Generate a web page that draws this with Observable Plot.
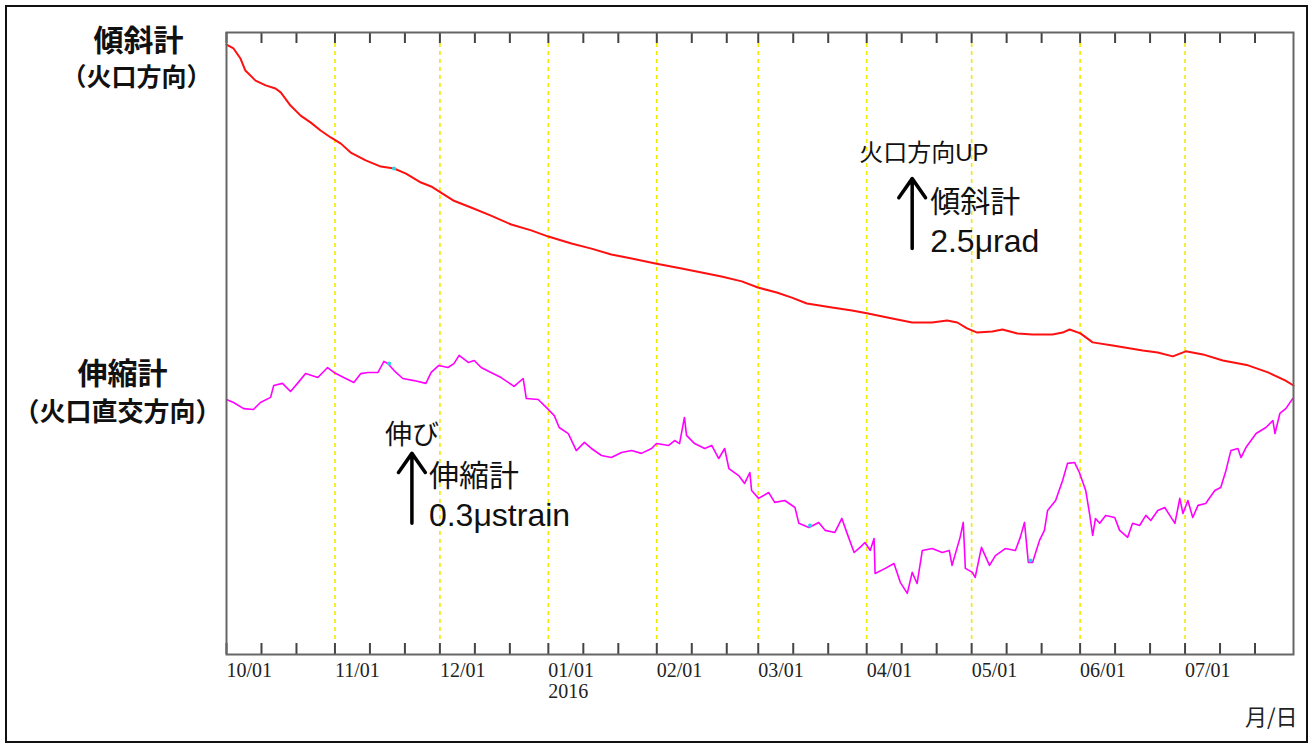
<!DOCTYPE html>
<html>
<head>
<meta charset="utf-8">
<script src="https://cdn.jsdelivr.net/npm/d3@7"></script>
<script src="https://cdn.jsdelivr.net/npm/@observablehq/plot@0.6"></script>
<style>
  html, body { margin: 0; padding: 0; background: #fff; }
  #chart { width: 1313px; height: 747px; }
</style>
</head>
<body>
<div id="chart"></div>
<script>
// ---------- data ----------
const startDate = "2015-10-01";
const endDate = "2016-08-01";

// tilt (火口方向), days since startDate, μrad relative to start
const tiltDays = [0,2,4,5.4,8.3,11.2,14,15.5,18.3,21.2,
  24.1,26.9,29.8,32.7,35.5,39.8,44.1,47.9,51.3,55.6,
  58.5,61.3,64.8,69.9,75.6,81.4,87.1,92,98.6,104.3,
  110,115.8,122.6,130.1,135.8,141.5,147.3,151.9,157.3,161.6,
  165.9,173.1,178.8,183.4,190.3,196,201.7,206,208.9,211.7,
  214.6,218.9,221.8,226.1,230.4,236.1,239,241,244.1,247.6,
  253.3,261.9,266.2,270.5,274.2,279.1,284.8,292,297.7,302.6,305];
const tiltValues = [0,-0.14,-0.50,-0.93,-1.29,-1.46,-1.57,-1.71,-2.18,-2.54,
  -2.79,-3.07,-3.32,-3.54,-3.86,-4.14,-4.36,-4.43,-4.61,-4.93,
  -5.07,-5.29,-5.57,-5.82,-6.11,-6.43,-6.64,-6.86,-7.11,-7.29,
  -7.50,-7.64,-7.82,-8.00,-8.14,-8.29,-8.46,-8.68,-8.86,-9.04,
  -9.25,-9.39,-9.50,-9.61,-9.79,-9.93,-9.93,-9.86,-9.93,-10.14,
  -10.29,-10.25,-10.18,-10.32,-10.36,-10.36,-10.29,-10.18,-10.32,-10.64,
  -10.75,-10.93,-11.00,-11.14,-10.96,-11.07,-11.29,-11.46,-11.71,-12.00,-12.18];

// strain (火口直交方向), days since startDate, μstrain relative to start
const strainDays = [0,2.0,4.9,7.7,9.7,12.6,13.5,16.0,18.3,20.3,
  22.6,26.1,28.9,30.7,33.5,36.4,38.4,40.4,43.3,45.0,
  46.1,47.9,50.4,53.6,57.0,58.5,60.7,63.3,65.0,66.5,
  69.1,70.8,72.8,75.6,78.5,82.2,84.8,85.7,89.1,91.4,
  93.7,95.1,97.7,100.0,102.3,104.3,107.2,110.0,112.9,115.8,
  118.6,121.5,122.9,126.4,128.1,129.5,130.9,131.5,133.8,136.7,
  138.7,140.7,142.4,143.6,146.4,148.1,149.6,150.1,152.1,155.0,
  156.7,159.6,162.5,163.6,166.5,169.3,171.1,173.9,175.9,177.4,
  179.4,181.1,182.5,184.0,185.1,185.4,188.3,190.8,192.6,194.6,
  196.0,197.4,198.9,201.7,204.6,206.6,207.4,209.7,210.6,211.2,
  213.2,214.0,215.8,218.1,219.8,222.6,225.5,226.9,228.1,229.2,
  230.4,232.4,233.8,234.7,237.0,239.0,240.4,242.4,243.8,245.6,
  246.7,247.6,248.4,249.6,251.3,253.9,255.3,257.6,259.0,261.0,
  262.8,264.2,266.2,268.2,271.1,272.5,273.4,274.8,276.2,277.7,
  279.9,282.5,284.2,285.7,287.1,289.1,290.0,291.4,294.3,297.1,
  299.1,299.7,301.1,302.8,304.8];
const strainValues = [0,-0.013,-0.039,-0.043,-0.013,0.009,0.060,0.069,0.034,0.069,
  0.111,0.094,0.137,0.116,0.094,0.073,0.111,0.116,0.116,0.163,
  0.154,0.124,0.090,0.081,0.069,0.116,0.146,0.137,0.154,0.189,
  0.159,0.167,0.137,0.116,0.094,0.056,0.090,0.004,0,-0.034,
  -0.069,-0.120,-0.146,-0.219,-0.184,-0.210,-0.240,-0.249,-0.227,-0.219,
  -0.231,-0.210,-0.189,-0.197,-0.176,-0.189,-0.077,-0.154,-0.189,-0.210,
  -0.197,-0.253,-0.210,-0.296,-0.326,-0.360,-0.313,-0.390,-0.424,-0.399,
  -0.441,-0.433,-0.463,-0.531,-0.549,-0.527,-0.561,-0.570,-0.510,-0.574,
  -0.656,-0.634,-0.613,-0.647,-0.596,-0.746,-0.724,-0.703,-0.784,-0.831,
  -0.741,-0.789,-0.647,-0.639,-0.656,-0.647,-0.711,-0.591,-0.527,-0.724,
  -0.741,-0.763,-0.634,-0.711,-0.669,-0.639,-0.647,-0.591,-0.527,-0.699,
  -0.699,-0.604,-0.561,-0.476,-0.433,-0.347,-0.274,-0.270,-0.313,-0.390,
  -0.489,-0.583,-0.510,-0.531,-0.497,-0.506,-0.561,-0.591,-0.531,-0.540,
  -0.497,-0.519,-0.476,-0.463,-0.531,-0.424,-0.489,-0.433,-0.506,-0.454,
  -0.446,-0.390,-0.377,-0.304,-0.219,-0.210,-0.249,-0.206,-0.146,-0.120,
  -0.090,-0.146,-0.060,-0.039,0.004];

// flagged samples (cyan)
const tiltFlagDays = [47.9];
const tiltFlagValues = [-4.43];
const strainFlagDays = [46.5, 166.8, 229.8];
const strainFlagValues = [0.154, -0.54, -0.69];

// axis
const monthStarts = ["2015-10-01","2015-11-01","2015-12-01","2016-01-01","2016-02-01",
  "2016-03-01","2016-04-01","2016-05-01","2016-06-01","2016-07-01"];
const monthLabels = ["10/01","11/01","12/01","01/01","02/01","03/01","04/01","05/01","06/01","07/01"];
const yearStarts = ["2016-01-01"];
const yearLabels = ["2016"];
const tickDaysOfMonth = [1, 11, 21];

// scale bars
const tiltScaleBar = 2.5;    // μrad
const strainScaleBar = 0.3;  // μstrain
const tiltArrowDate = "2016-04-14", tiltArrowBase = -7.29;
const strainArrowDate = "2015-11-23", strainArrowBase = -0.531;

// ---------- build ----------
const parse = d3.utcParse("%Y-%m-%d");
const t0 = parse(startDate);
const toDate = d => new Date(+t0 + d * 864e5);
const strainFactor = tiltScaleBar / strainScaleBar; // equal arrow lengths
const strainOffset = -12.68;                        // strain trace offset (tilt units)
const sy = v => v * strainFactor + strainOffset;

const tilt = tiltDays.map((d, i) => ({date: toDate(d), value: tiltValues[i]}));
const strain = strainDays.map((d, i) => ({date: toDate(d), value: sy(strainValues[i])}));
const flags = [
  ...tiltFlagDays.map((d, i) => ({date: toDate(d), value: tiltFlagValues[i]})),
  ...strainFlagDays.map((d, i) => ({date: toDate(d), value: sy(strainFlagValues[i])}))
];
const months = monthStarts.map(parse);
const tickDates = months.flatMap(m => tickDaysOfMonth.map(k => d3.utcDay.offset(m, k - 1)));

const arrows = [
  {date: parse(tiltArrowDate), y1: tiltArrowBase, y2: tiltArrowBase + tiltScaleBar},
  {date: parse(strainArrowDate), y1: sy(strainArrowBase), y2: sy(strainArrowBase + strainScaleBar)}
];
const A1 = arrows[0], A2 = arrows[1];

const W = 1313, H = 747, mL = 226, mR = 20, mT = 32, mB = 93;
const frameH = H - mT - mB;
const tickLen = 11;
const sans = "'Liberation Sans', Arial, 'Noto Sans CJK JP', sans-serif";
const cjk = "'Noto Sans CJK JP', sans-serif";
const serif = "'Liberation Serif', serif";

const ann = (t, d, opts) => Plot.text([t], {x: () => d.date, y: () => d.y2, text: () => t,
  textAnchor: "start", lineAnchor: "middle", fill: "#111", fontFamily: sans, ...opts});

const chart = Plot.plot({
  width: W, height: H,
  marginLeft: mL, marginRight: mR, marginTop: mT, marginBottom: mB,
  style: {background: "#fff", overflow: "visible"},
  x: {type: "utc", domain: [parse(startDate), parse(endDate)], axis: null},
  y: {domain: [-21.79, 0.43], axis: null},
  marks: [
    Plot.ruleX(months.slice(1), {stroke: "#f2ea00", strokeWidth: 1.6, strokeDasharray: "4,4",
      insetTop: tickLen, insetBottom: tickLen}),
    Plot.ruleX(tickDates, {stroke: "#444", strokeWidth: 2, insetTop: frameH - tickLen}),
    Plot.ruleX(tickDates, {stroke: "#444", strokeWidth: 2, insetBottom: frameH - tickLen}),
    Plot.line(tilt, {x: "date", y: "value", stroke: "#ff1010", strokeWidth: 2}),
    Plot.line(strain, {x: "date", y: "value", stroke: "#ff00ff", strokeWidth: 1.6}),
    Plot.dot(flags, {x: "date", y: "value", r: 2, fill: "#22d8e8", stroke: "none"}),
    Plot.frame({stroke: "#666", strokeWidth: 2}),
    Plot.arrow(arrows, {x1: "date", x2: "date", y1: "y1", y2: "y2", stroke: "#000",
      strokeWidth: 3.5, headLength: 14, headAngle: 70}),
    // tick labels
    Plot.text(monthStarts, {x: d => parse(d), text: (d, i) => monthLabels[i], frameAnchor: "bottom",
      dy: 8, lineAnchor: "top", textAnchor: "start", fontFamily: serif, fontSize: 20, fill: "#222"}),
    Plot.text(yearStarts, {x: d => parse(d), text: (d, i) => yearLabels[i], frameAnchor: "bottom",
      dy: 29, lineAnchor: "top", textAnchor: "start", fontFamily: serif, fontSize: 20, fill: "#222"}),
    Plot.text(["月/日"], {frameAnchor: "bottom-right", dx: 4, dy: 63, textAnchor: "end",
      lineAnchor: "middle", fontFamily: cjk, fontSize: 22, fill: "#222"}),
    // series labels
    Plot.text(["傾斜計"], {frameAnchor: "top-left", dx: -88, dy: 9, textAnchor: "middle",
      lineAnchor: "middle", fontFamily: cjk, fontWeight: "bold", fontSize: 30, fill: "#111", ariaLabel: "spaced-4"}),
    Plot.text(["（火口方向）"], {frameAnchor: "top-left", dx: -90, dy: 45, textAnchor: "middle",
      lineAnchor: "middle", fontFamily: cjk, fontWeight: "bold", fontSize: 25, fill: "#111"}),
    Plot.text(["伸縮計"], {frameAnchor: "top-left", dx: -104, dy: 342, textAnchor: "middle",
      lineAnchor: "middle", fontFamily: cjk, fontWeight: "bold", fontSize: 30, fill: "#111", ariaLabel: "spaced-4"}),
    Plot.text(["（火口直交方向）"], {frameAnchor: "top-left", dx: -109, dy: 380, textAnchor: "middle",
      lineAnchor: "middle", fontFamily: cjk, fontWeight: "bold", fontSize: 26, fill: "#111"}),
    // scale-bar annotations
    ann("火口方向UP", A1, {dx: -53, dy: -25, fontSize: 24, ariaLabel: "spaced-5"}),
    ann("傾斜計", A1, {dx: 18, dy: 24, fontSize: 30, ariaLabel: "spaced-3"}),
    ann("2.5μrad", A1, {dx: 18, dy: 63, fontSize: 32}),
    ann("伸び", A2, {dx: -27, dy: -18, fontSize: 27}),
    ann("伸縮計", A2, {dx: 17, dy: 23, fontSize: 30, ariaLabel: "spaced-3"}),
    ann("0.3μstrain", A2, {dx: 17, dy: 62, fontSize: 32})
  ]
});

const svg = d3.select(chart);
svg.selectAll('g[aria-label="spaced-5"] text').attr("letter-spacing", "5px");
svg.selectAll('g[aria-label="spaced-4"] text').attr("letter-spacing", "4px");
svg.selectAll('g[aria-label="spaced-3"] text').attr("letter-spacing", "3px");
svg.append("rect").attr("x", 6).attr("y", 6).attr("width", W - 12).attr("height", H - 11)
  .attr("fill", "none").attr("stroke", "#111").attr("stroke-width", 2);

document.getElementById("chart").appendChild(chart);
</script>
</body>
</html>
